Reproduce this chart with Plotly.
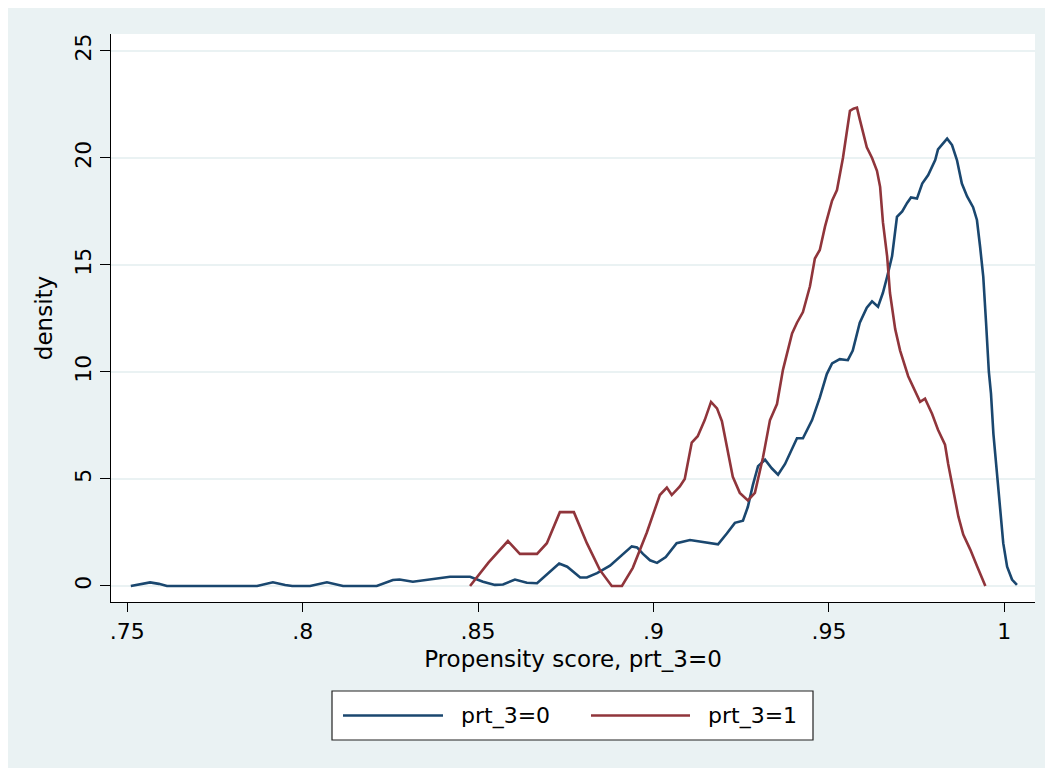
import plotly.graph_objects as go

# ---------------- data ----------------
series_names = ["prt_3=0", "prt_3=1"]

score_0 = [0.7510, 0.7540, 0.7565, 0.7590, 0.7613, 0.7870, 0.7915, 0.7950, 0.7970, 0.8021,
           0.8069, 0.8115, 0.8211, 0.8257, 0.8276, 0.8314, 0.8363, 0.8420, 0.8477, 0.8514,
           0.8548, 0.8571, 0.8605, 0.8639, 0.8668, 0.8705, 0.8731, 0.8754, 0.8791, 0.8810,
           0.8839, 0.8876, 0.8910, 0.8938, 0.8953, 0.8970, 0.8990, 0.9010, 0.9035, 0.9066,
           0.9104, 0.9152, 0.9184, 0.9209, 0.9232, 0.9255, 0.9269, 0.9283, 0.9298, 0.9318,
           0.9337, 0.9355, 0.9375, 0.9409, 0.9426, 0.9452, 0.9474, 0.9494, 0.9509, 0.9531,
           0.9554, 0.9568, 0.9588, 0.9608, 0.9623, 0.9640, 0.9654, 0.9666, 0.9680, 0.9694,
           0.9709, 0.9723, 0.9734, 0.9751, 0.9766, 0.9783, 0.9803, 0.9811, 0.9837, 0.9851,
           0.9865, 0.9879, 0.9894, 0.9911, 0.9922, 0.9931, 0.9940, 0.9948, 0.9956, 0.9962,
           0.9969, 0.9980, 0.9988, 0.9997, 1.0008, 1.0022, 1.0036]
density_0 = [0.00, 0.10, 0.17, 0.10, 0.00, 0.00, 0.17, 0.05, 0.00, 0.00,
             0.17, 0.00, 0.00, 0.28, 0.30, 0.20, 0.30, 0.43, 0.43, 0.20,
             0.05, 0.07, 0.30, 0.15, 0.13, 0.68, 1.05, 0.90, 0.40, 0.40,
             0.60, 0.95, 1.45, 1.85, 1.80, 1.50, 1.20, 1.08, 1.35, 2.00,
             2.15, 2.05, 1.95, 2.45, 2.95, 3.05, 3.70, 4.70, 5.60, 5.90,
             5.50, 5.20, 5.70, 6.90, 6.90, 7.75, 8.80, 9.90, 10.40, 10.60,
             10.55, 11.00, 12.30, 13.00, 13.30, 13.05, 13.70, 14.45, 15.40, 17.25,
             17.50, 17.90, 18.15, 18.10, 18.80, 19.20, 19.90, 20.40, 20.90, 20.60,
             19.90, 18.80, 18.20, 17.70, 17.10, 15.85, 14.45, 12.30, 10.00, 9.00,
             7.10, 5.10, 3.55, 2.00, 0.90, 0.30, 0.05]

score_1 = [0.8477, 0.8530, 0.8585, 0.8619, 0.8668, 0.8696, 0.8733, 0.8773, 0.8810, 0.8847,
           0.8881, 0.8910, 0.8941, 0.8981, 0.9018, 0.9038, 0.9052, 0.9075, 0.9089, 0.9109,
           0.9126, 0.9146, 0.9164, 0.9181, 0.9195, 0.9209, 0.9226, 0.9246, 0.9269, 0.9289,
           0.9312, 0.9332, 0.9352, 0.9369, 0.9395, 0.9409, 0.9426, 0.9446, 0.9460, 0.9474,
           0.9489, 0.9509, 0.9523, 0.9540, 0.9549, 0.9560, 0.9570, 0.9580, 0.9588, 0.9608,
           0.9623, 0.9637, 0.9646, 0.9654, 0.9666, 0.9674, 0.9689, 0.9703, 0.9726, 0.9745,
           0.9760, 0.9774, 0.9794, 0.9811, 0.9831, 0.9840, 0.9854, 0.9869, 0.9883, 0.9903,
           0.9923, 0.9946]
density_1 = [0.00, 1.10, 2.10, 1.50, 1.50, 2.00, 3.45, 3.45, 2.00, 0.75,
             0.00, 0.00, 0.85, 2.50, 4.25, 4.60, 4.25, 4.65, 5.00, 6.70,
             7.00, 7.75, 8.60, 8.30, 7.70, 6.50, 5.10, 4.35, 4.00, 4.35,
             6.00, 7.75, 8.50, 10.10, 11.80, 12.30, 12.80, 14.00, 15.30, 15.70,
             16.80, 18.00, 18.50, 20.00, 21.10, 22.20, 22.30, 22.35, 21.80, 20.50,
             20.00, 19.40, 18.65, 17.00, 15.40, 13.70, 12.00, 11.00, 9.80, 9.15,
             8.60, 8.75, 8.05, 7.30, 6.60, 5.70, 4.50, 3.25, 2.40, 1.70,
             0.90, 0.00]

x_tick_vals = [0.75, 0.80, 0.85, 0.90, 0.95, 1.00]
x_tick_text = [".75", ".8", ".85", ".9", ".95", "1"]
y_tick_vals = [0, 5, 10, 15, 20, 25]
y_tick_text = ["0", "5", "10", "15", "20", "25"]

x_title = "Propensity score, prt_3=0"
y_title = "density"

# ---------------- style ----------------
OFF = 8                      # page body margin in front of the figure
W_FIG, H_FIG = 1045, 762
M_L, M_R, M_T, M_B = 103, 18, 26, 168
PW = W_FIG - M_L - M_R
PH = H_FIG - M_T - M_B
BG = "#EAF2F3"
COLORS = ["#1A476F", "#90353B"]
FONT = "DejaVu Sans"


def px_x(page_px):
    return (page_px - OFF - M_L) / PW


def px_y(page_py):
    return (H_FIG - M_B - (page_py - OFF)) / PH


fig = go.Figure()
for xs, ys, name, col in [(score_0, density_0, series_names[0], COLORS[0]),
                          (score_1, density_1, series_names[1], COLORS[1])]:
    fig.add_trace(go.Scatter(x=xs, y=ys, mode="lines", name=name,
                             line=dict(color=col, width=2.6), showlegend=False))

shapes = []
# white outer border strips (right and bottom; left/top come from the page margin)
for (x0, y0, x1, y1) in [(1050, 0, 1070, 790), (0, 768, 1070, 790)]:
    shapes.append(dict(type="rect", xref="paper", yref="paper",
                       x0=px_x(x0), x1=px_x(x1), y0=px_y(y1), y1=px_y(y0),
                       fillcolor="white", line=dict(width=0), layer="above"))

# custom legend box
LEG_Y = 715.5
shapes.append(dict(type="rect", xref="paper", yref="paper",
                   x0=px_x(332), x1=px_x(813), y0=px_y(740), y1=px_y(691),
                   fillcolor="white", line=dict(color="#222222", width=1.2), layer="above"))
annotations = []
for (lx0, lx1, tx), name, col in zip([(343, 443, 459), (591, 690, 706)], series_names, COLORS):
    shapes.append(dict(type="line", xref="paper", yref="paper",
                       x0=px_x(lx0), x1=px_x(lx1), y0=px_y(LEG_Y), y1=px_y(LEG_Y),
                       line=dict(color=col, width=2.6), layer="above"))
    annotations.append(dict(xref="paper", yref="paper", x=px_x(tx), y=px_y(LEG_Y),
                            text=name, showarrow=False, xanchor="left", yanchor="middle",
                            font=dict(family=FONT, size=22, color="black")))

fig.update_layout(
    width=W_FIG, height=H_FIG,
    margin=dict(l=M_L, r=M_R, t=M_T, b=M_B, pad=0),
    paper_bgcolor=BG, plot_bgcolor="white",
    font=dict(family=FONT, size=22, color="black"),
    shapes=shapes, annotations=annotations,
    xaxis=dict(range=[0.74535, 1.00875], tickmode="array", tickvals=x_tick_vals, ticktext=x_tick_text,
               ticks="outside", ticklen=9, tickwidth=1.2, tickcolor="black",
               showline=True, linecolor="black", linewidth=1.2, mirror=False,
               showgrid=False, zeroline=False,
               tickfont=dict(size=22),
               title=dict(text=x_title, font=dict(size=23), standoff=8)),
    yaxis=dict(range=[-0.748, 25.79], tickmode="array", tickvals=y_tick_vals, ticktext=y_tick_text,
               tickangle=-90, ticks="outside", ticklen=10, tickwidth=1.2, tickcolor="black",
               showline=True, linecolor="black", linewidth=1.2,
               showgrid=True, gridcolor=BG, gridwidth=2, zeroline=False,
               tickfont=dict(size=22),
               title=dict(text=y_title, font=dict(size=23), standoff=12)),
)

fig.write_html("out.html")
